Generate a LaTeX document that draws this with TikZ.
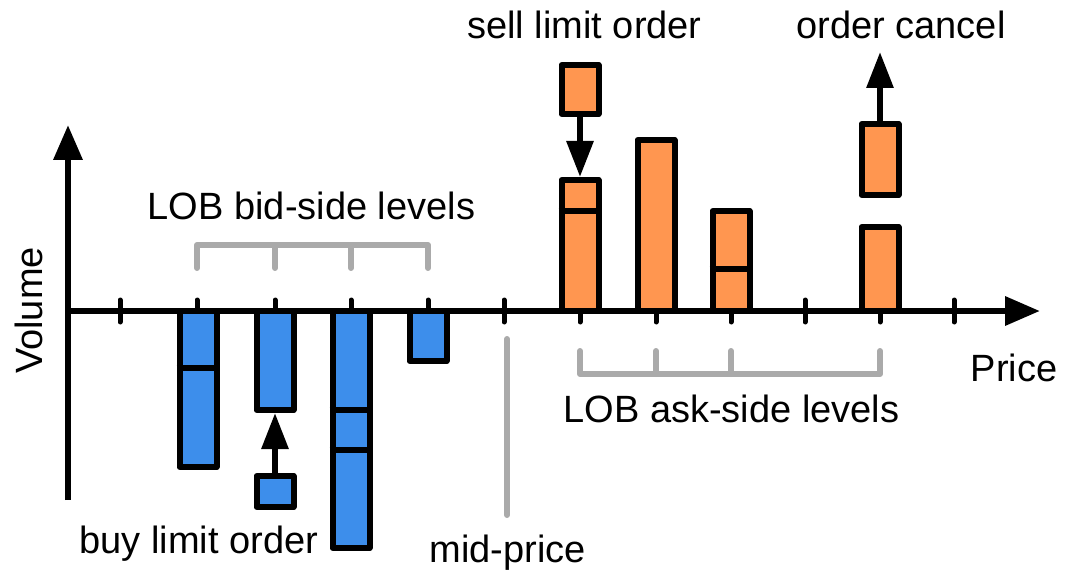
\documentclass[tikz,border=0pt]{standalone}
\usepackage{fontspec}
\setmainfont{Liberation Sans}
\usetikzlibrary{arrows.meta}

\definecolor{bidblue}{RGB}{61,142,235}
\definecolor{askorange}{RGB}{255,150,80}
\definecolor{guidegray}{RGB}{170,170,170}

\tikzset{
  barbox/.style={draw=black, line width=6pt, line join=round, minimum width=37pt,
                 inner sep=0pt, outer sep=3pt},
  bidbar/.style={barbox, fill=bidblue},
  askbar/.style={barbox, fill=askorange},
  divider/.style={line width=6pt},
  axisline/.style={line width=6.5pt, -{Triangle[length=35pt,width=28pt]}},
  tickmark/.style={line width=5pt, line cap=round},
  guide/.style={draw=guidegray, line width=6pt, line cap=round, line join=round},
  flow/.style={line width=6pt, -{Triangle[length=36pt,width=26pt]}},
  txt/.style={font=\fontsize{38}{44}\selectfont, inner sep=0pt, anchor=base},
}

\begin{document}
\begin{tikzpicture}[x=1pt,y=-1pt]
\useasboundingbox (0,0) rectangle (1065,572);

% price ticks
\foreach \x in {120,197,275,351,428,504,580,656,731,805,880,954}
  \draw[tickmark] (\x,300) -- (\x,322);

% bid side (below the axis)
\node[bidbar, minimum height=156pt, anchor=north] (bid1) at (198,308) {};
\node[bidbar, minimum height=99pt,  anchor=north] (bid2) at (275,308) {};
\node[bidbar, minimum height=237pt, anchor=north] (bid3) at (351,308) {};
\node[bidbar, minimum height=50pt,  anchor=north] (bid4) at (428,308) {};
\node[bidbar, minimum height=31pt] (buybox) at (275,491.5) {};
\draw[divider] (bid1.west |- 0,368) -- (bid1.east |- 0,368);
\draw[divider] (bid3.west |- 0,410) -- (bid3.east |- 0,410);
\draw[divider] (bid3.west |- 0,450) -- (bid3.east |- 0,450);

% ask side (above the axis)
\node[askbar, minimum height=131pt, anchor=south] (ask1) at (580,314) {};
\node[askbar, minimum height=171pt, anchor=south] (ask2) at (656,314) {};
\node[askbar, minimum height=100pt, anchor=south] (ask3) at (731,314) {};
\node[askbar, minimum height=84pt,  anchor=south] (ask4) at (880,314) {};
\node[askbar, minimum height=49pt] (sellbox) at (580,89.5) {};
\node[askbar, minimum height=71pt] (cancelbox) at (880,159.5) {};
\draw[divider] (ask1.west |- 0,211) -- (ask1.east |- 0,211);
\draw[divider] (ask3.west |- 0,269) -- (ask3.east |- 0,269);

% axes
\coordinate (origin) at (68,311);
\coordinate (xend) at (1040,311);
\coordinate (ybot) at (68,500);
\coordinate (ytop) at (68,125);
\draw[axisline] (ybot) -- (ytop);
\draw[axisline] (origin) -- (xend);

% level brackets and mid-price marker
\draw[guide] (197,268) -- (197,245) -- (428,245) -- (428,268);
\draw[guide] (275,245) -- (275,268);
\draw[guide] (351,245) -- (351,268);
\draw[guide] (580,351) -- (580,374) -- (880,374) -- (880,351);
\draw[guide] (656,374) -- (656,351);
\draw[guide] (731,374) -- (731,351);
\coordinate (midtop) at (507,339);
\coordinate (midbot) at (507,515);
\draw[guide] (midtop) -- (midbot);

% order events
\coordinate (gone) at (880,52);
\draw[flow] (sellbox) -- (ask1);
\draw[flow] (buybox) -- (bid2);
\draw[flow] (cancelbox) -- (gone);

% labels
\node[txt] (bidlbl) at (311.5,219) {LOB bid-side levels};
\node[txt] (asklbl) at (731.5,422) {LOB ask-side levels};
\node[txt] (pricelbl) at (1014,381) {Price};
\node[txt] (selllbl) at (584.5,39) {sell limit order};
\node[txt] (cancellbl) at (901,39) {order cancel};
\node[txt] (buylbl) at (199,553) {buy limit order};
\node[txt] (midlbl) at (507.5,562) {mid-price};
\node[txt, rotate=90] (vollbl) at (42,310.5) {Volume};
\end{tikzpicture}
\end{document}
